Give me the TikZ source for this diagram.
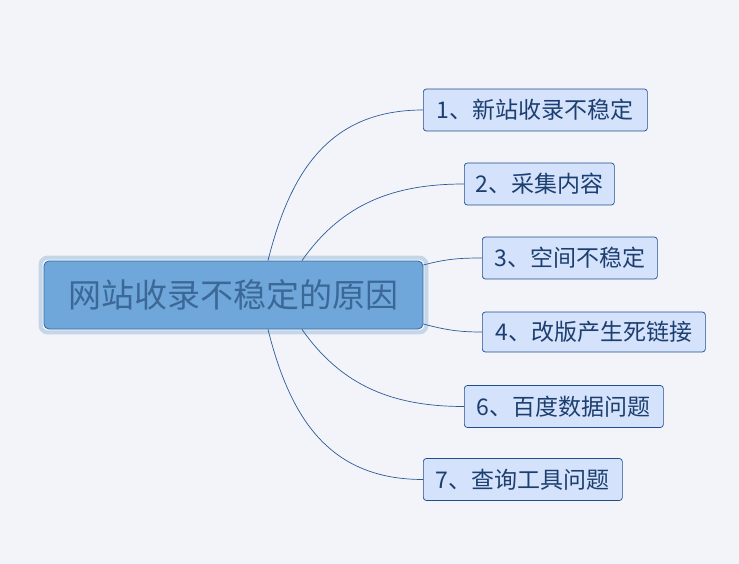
\documentclass[tikz,border=0pt]{standalone}
\usepackage{fontspec}
\newfontfamily\cjk{Noto Sans CJK SC}
\usetikzlibrary{fit, backgrounds}
\definecolor{bgcol}{HTML}{F3F4FA}
\definecolor{rootfill}{HTML}{6FA7DB}
\definecolor{rootline}{HTML}{2F69A6}
\definecolor{roottext}{HTML}{3C6898}
\definecolor{halocol}{HTML}{C4D6E7}
\definecolor{itemfill}{HTML}{D5E2FC}
\definecolor{itemline}{HTML}{1F4E8C}
\definecolor{itemtext}{HTML}{1C3F70}
\definecolor{linkcol}{HTML}{2C5B95}
\tikzset{
  root/.style = {rectangle, rounded corners=5pt, draw=rootline, line width=0.8pt,
    fill=rootfill, text=roottext, minimum width=379pt, minimum height=68pt,
    font=\cjk\fontsize{33}{36}\selectfont},
  halo/.style = {rectangle, rounded corners=7pt, draw=halocol, line width=4pt,
    inner sep=3pt},
  item/.style = {rectangle, rounded corners=3pt, draw=itemline, line width=0.7pt,
    fill=itemfill, text=itemtext, minimum height=42pt, inner xsep=4pt,
    anchor=west, font=\cjk\fontsize{23}{26}\selectfont},
  link/.style = {draw=linkcol, line width=0.7pt}
}
\begin{document}
\begin{tikzpicture}[x=1pt, y=-1pt]
  \useasboundingbox (0,0) rectangle (739,564);
  % Place nodes
  \node[root] (reason) at (233.5,295) {网站收录不稳定的原因};
  \begin{scope}[on background layer]
  \fill[bgcol] (0,0) rectangle (739,564);
  \node[halo, fit=(reason)] (reasonhalo) {};
  \end{scope}
  % Branches
  \node[item, minimum width=224pt] (new)    at (423,110)   {1、新站收录不稳定};
  \node[item, minimum width=150pt] (copy)   at (464,184)   {2、采集内容};
  \node[item, minimum width=175pt] (host)   at (482,258)   {3、空间不稳定};
  \node[item, minimum width=223pt, minimum height=40pt] (dead) at (482,332) {4、改版产生死链接};
  \node[item, minimum width=199pt] (baidu)  at (464,406.5) {6、百度数据问题};
  \node[item, minimum width=199pt] (tool)   at (423,479.5) {7、查询工具问题};

  % Draw edges
  \path [link] ([xshift=34.5pt]reason.north) to[out=76, in=180, looseness=1.1] (new.west);
  \path [link] ([xshift=68.5pt]reason.north) to[out=55, in=180] (copy.west);
  \path [link] ([yshift=30pt]reason.east) to[out=15, in=180] (host.west);
  \path [link] ([yshift=-29pt]reason.east) to[out=-15, in=180] (dead.west);
  \path [link] ([xshift=68.5pt]reason.south) to[out=-55, in=180] (baidu.west);
  \path [link] ([xshift=34.5pt]reason.south) to[out=-76, in=180, looseness=1.1] (tool.west);
\end{tikzpicture}
\end{document}
